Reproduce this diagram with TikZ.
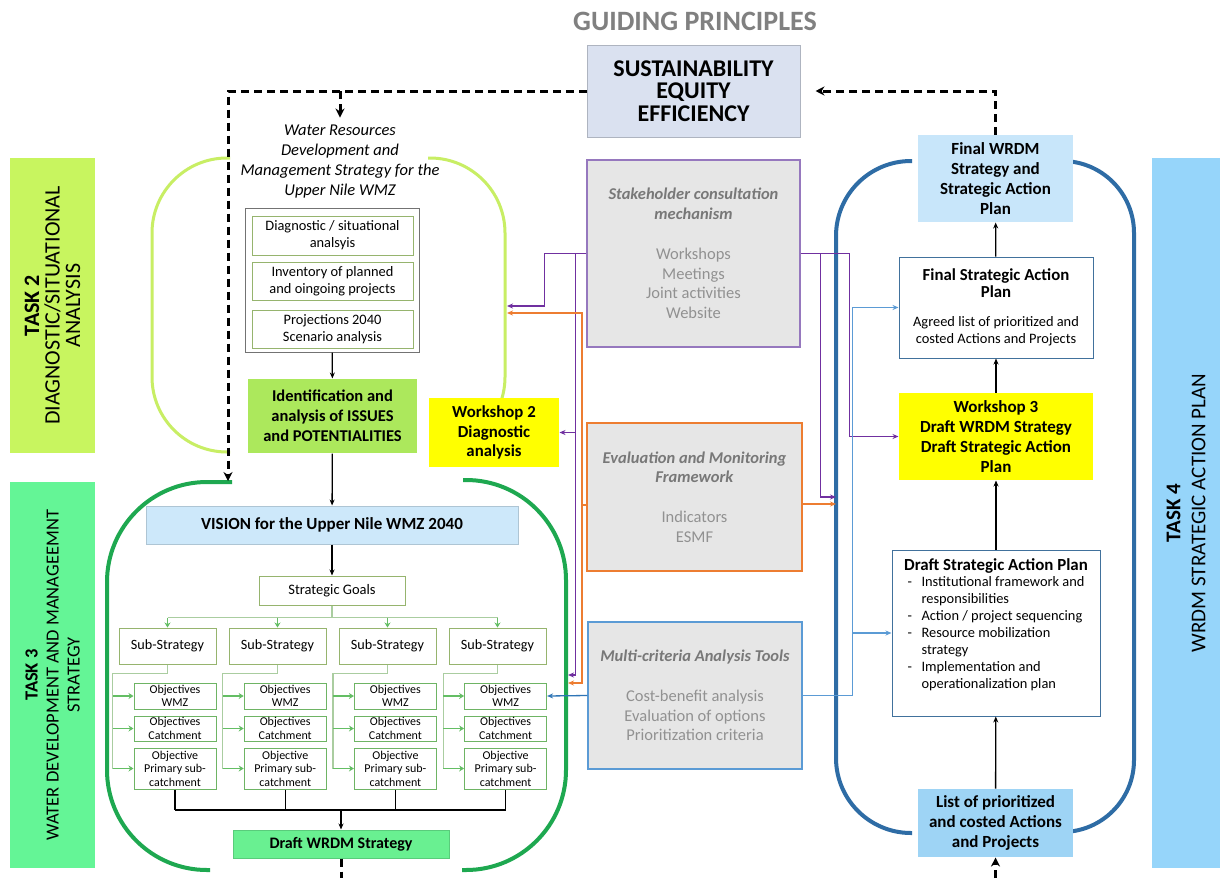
\documentclass[tikz,border=0pt]{standalone}
\usepackage{fontspec}
\setmainfont{Carlito}
\usetikzlibrary{arrows.meta}

\definecolor{tasktwo}{RGB}{200,245,95}
\definecolor{taskthree}{RGB}{100,245,150}
\definecolor{taskfour}{RGB}{150,213,250}
\definecolor{limeline}{RGB}{200,238,100}
\definecolor{greenline}{RGB}{30,168,80}
\definecolor{blueline}{RGB}{46,108,165}
\definecolor{purp}{RGB}{112,48,160}
\definecolor{stakeline}{RGB}{150,120,190}
\definecolor{orng}{RGB}{237,125,49}
\definecolor{ltblue}{RGB}{91,155,213}
\definecolor{dkblue}{RGB}{46,117,182}
\definecolor{toolfill}{RGB}{230,230,230}
\definecolor{tooltext}{RGB}{145,145,145}
\definecolor{tooltitle}{RGB}{120,120,120}
\definecolor{visionfill}{RGB}{205,232,250}
\definecolor{finalfill}{RGB}{200,230,250}
\definecolor{listfill}{RGB}{158,212,245}
\definecolor{seefill}{RGB}{218,225,240}
\definecolor{issuefill}{RGB}{172,232,92}
\definecolor{draftfill}{RGB}{105,240,145}
\definecolor{wsyellow}{RGB}{255,255,0}
\definecolor{boxgreen}{RGB}{150,180,110}
\definecolor{objgreen}{RGB}{110,180,100}
\definecolor{feedgreen}{RGB}{170,205,160}
\definecolor{arrgreen}{RGB}{100,190,100}
\definecolor{sapline}{RGB}{65,113,156}

\begin{document}
\begin{tikzpicture}[x=1pt,y=-1pt,>={Stealth[length=6pt,width=5pt]},line width=1pt,
    task/.style={rotate=90,align=center,inner sep=0pt,minimum height=85pt},
    part/.style={draw=boxgreen,minimum width=161pt,align=center,font=\fontsize{14.4}{17}\selectfont},
    tool/.style={draw,line width=1.2pt,fill=toolfill,text=tooltext,align=center,font=\fontsize{16.5}{19.8}\selectfont},
    sub/.style={draw=boxgreen,minimum width=97pt,minimum height=36pt,font=\fontsize{14.2}{16}\selectfont},
    obj/.style={draw=objgreen,minimum width=82pt,align=center,inner sep=0pt,font=\fontsize{12}{13.5}\selectfont},
    feed/.style={draw=feedgreen,line width=1.2pt},
    feedarr/.style={->,draw=arrgreen,line width=1.2pt,>={Stealth[length=5pt,width=6pt]}},
    bracket/.style={line width=4pt,rounded corners=75pt},
    link/.style={->,line width=1.3pt},
    flow/.style={->,line width=1.3pt},
    guide/.style={->,line width=3pt,dash pattern=on 8pt off 5pt,>={Stealth[length=9pt,width=9pt]}}]

\useasboundingbox (0,0) rectangle (1220,878);
\fill[white] (0,0) rectangle (1220,878);

\draw[limeline,bracket,line width=3pt] (230,158) -- (152,158) -- (152,452) -- (230,452);
\draw[limeline,bracket,line width=3pt] (428,158) -- (505,158) -- (505,452) -- (430,452);
\draw[greenline,bracket,rounded corners=100pt] (232,482) -- (107,482) -- (107,870) -- (210,870);
\draw[greenline,bracket,rounded corners=100pt] (463,480) -- (566,480) -- (566,870) -- (462,870);
\draw[blueline,bracket] (912,161) -- (836,161) -- (836,833) -- (912,833);
\draw[blueline,bracket,rounded corners=72pt] (1060,161) -- (1134,161) -- (1134,832) -- (1060,832);

\node[font=\bfseries\fontsize{28}{30}\selectfont,text=black!50] (gp) at (695,21) {GUIDING PRINCIPLES};
\node[fill=seefill,draw=seefill!80!black,minimum width=213pt,minimum height=92pt,align=center,font=\bfseries\fontsize{24}{22.5}\selectfont] (see) at (693.5,91) {SUSTAINABILITY\\EQUITY\\EFFICIENCY};

\node[task,fill=tasktwo,minimum width=295pt,font=\fontsize{22}{20.5}\selectfont] (t2) at (52.5,305.5) {\textbf{TASK 2}\\DIAGNOSTIC/SITUATIONAL\\ANALYSIS};
\node[task,fill=taskthree,minimum width=386pt,font=\fontsize{18.5}{21}\selectfont] (t3) at (52.5,675) {\textbf{TASK 3}\\WATER DEVELOPMENT AND MANAGEEMNT\\STRATEGY};
\node[task,fill=taskfour,minimum width=710pt,minimum height=68pt,font=\fontsize{21}{25}\selectfont] (t4) at (1186,513) {\textbf{TASK 4}\\WRDM STRATEGIC ACTION PLAN};

\node[align=center,font=\itshape\fontsize{16.5}{20}\selectfont] (wrdm) at (340,162) {Water Resources\\Development and\\Management Strategy for the\\Upper Nile WMZ};
\node[draw=black!55,minimum width=174pt,minimum height=144pt] (diag) at (332,280) {};
\node[part,minimum height=39pt] (d1) at (332.5,235.5) {Diagnostic / situational\\analsyis};
\node[part,minimum height=38pt] (d2) at (332.5,281) {Inventory of planned\\and oingoing projects};
\node[part,minimum height=38pt] (d3) at (332.5,329) {Projections 2040\\Scenario analysis};
\node[fill=issuefill,minimum width=169pt,minimum height=74pt,align=center,font=\bfseries\fontsize{16.5}{20}\selectfont] (issues) at (332.5,416) {Identification and\\analysis of ISSUES\\and POTENTIALITIES};
\node[fill=wsyellow,minimum width=130pt,minimum height=69pt,align=center,font=\bfseries\fontsize{16.8}{19.5}\selectfont] (ws2) at (494,432.5) {Workshop 2\\Diagnostic\\analysis};

\node[fill=visionfill,draw=visionfill!85!black,minimum width=372pt,minimum height=38pt,font=\bfseries\fontsize{17}{20}\selectfont] (vision) at (332,525) {VISION for the Upper Nile WMZ 2040};
\node[draw=boxgreen,minimum width=146pt,minimum height=29pt,font=\fontsize{14.5}{17}\selectfont] (goals) at (332,590.5) {Strategic Goals};
\foreach \i in {1,...,4}{
  \node[sub] (sub\i) at (57.5+110*\i,646) {Sub-Strategy};
  \node[obj,minimum height=26pt] (wmz\i) at (64.8+110.2*\i,696) {Objectives\\WMZ};
  \node[obj,minimum height=25pt] (catch\i) at (64.8+110.2*\i,728.5) {Objectives\\Catchment};
  \node[obj,minimum height=41pt] (prim\i) at (64.8+110.2*\i,768.5) {Objective\\Primary sub-\\catchment};
  \draw[feed] (sub\i.south) -- ++(0,9) -| ([xshift=-21pt]prim\i.west);
  \draw[feedarr] ([xshift=-21pt]wmz\i.west) -- (wmz\i.west);
  \draw[feedarr] ([xshift=-21pt]catch\i.west) -- (catch\i.west);
  \draw[feedarr] ([xshift=-21pt]prim\i.west) -- (prim\i.west);
}
\draw[feed] (goals.south) -- ++(0,12) coordinate (fan);
\draw[feed] (sub1.north |- fan) -- (sub4.north |- fan);
\foreach \i in {1,...,4} \draw[feedarr] (sub\i.north |- fan) -- (sub\i.north);
\node[fill=draftfill,draw=draftfill!85!black,minimum width=216pt,minimum height=28pt,font=\bfseries\fontsize{16}{19}\selectfont] (draft) at (341,844) {Draft WRDM Strategy};
\coordinate (join) at (341,810);
\foreach \i in {1,...,4} \draw[line width=1.3pt] (prim\i.south) -- (prim\i.south |- join);
\draw[line width=1.3pt] (prim1.south |- join) -- (prim4.south |- join);
\draw[flow] (join) -- (draft.north);

\node[tool,draw=stakeline,minimum width=213pt,minimum height=187pt] (stake) at (693.5,253.5) {\textcolor{tooltitle}{\textbf{\textit{Stakeholder consultation}}}\\\textcolor{tooltitle}{\textbf{\textit{mechanism}}}\\[19.8pt]Workshops\\Meetings\\Joint activities\\Website};
\node[tool,draw=orng,minimum width=215pt,minimum height=148pt] (eval) at (694.5,497) {\textcolor{tooltitle}{\textbf{\textit{Evaluation and Monitoring}}}\\\textcolor{tooltitle}{\textbf{\textit{Framework}}}\\[19.8pt]Indicators\\ESMF};
\node[tool,draw=ltblue,minimum width=214pt,minimum height=147pt] (mca) at (695,695.5) {\textcolor{tooltitle}{\textbf{\textit{Multi-criteria Analysis Tools}}}\\[19.8pt]Cost-benefit analysis\\Evaluation of options\\Prioritization criteria};

\node[fill=finalfill,minimum width=155pt,minimum height=87pt,align=center,font=\bfseries\fontsize{17}{20}\selectfont] (fwrdm) at (995.5,178.5) {Final WRDM\\Strategy and\\Strategic Action\\Plan};
\node[draw=sapline,fill=white,minimum width=194pt,minimum height=101pt,align=center,font=\fontsize{14.4}{17}\selectfont] (fsap) at (996,307.5) {\textbf{\fontsize{16.8}{19}\selectfont Final Strategic Action}\\\textbf{\fontsize{16.8}{19}\selectfont Plan}\\[12pt]Agreed list of prioritized and\\costed Actions and Projects};
\node[fill=wsyellow,minimum width=194pt,minimum height=87pt,align=center,font=\bfseries\fontsize{17}{20}\selectfont] (ws3) at (996,436.5) {Workshop 3\\Draft WRDM Strategy\\Draft Strategic Action\\Plan};
\node[draw=sapline,fill=white,minimum width=208pt,minimum height=166pt,align=center,font=\fontsize{14.4}{17}\selectfont] (dsap) at (996,633) {\textbf{\fontsize{16.9}{19}\selectfont Draft Strategic Action Plan}\\
  \begin{tabular}{@{}p{14pt}@{}l@{}}
  -&Institutional framework and\\&responsibilities\\-&Action / project sequencing\\-&Resource mobilization\\&strategy\\-&Implementation and\\&operationalization plan\\[14pt]
  \end{tabular}};
\node[fill=listfill,minimum width=155pt,minimum height=68pt,align=center,font=\bfseries\fontsize{17}{20}\selectfont] (list) at (995.5,823) {List of prioritized\\and costed Actions\\and Projects};

\draw[flow] (diag) -- (issues);
\draw[flow] (issues) -- (vision);
\draw[flow] (vision) -- (goals);
\draw[flow] (list) -- (dsap);
\draw[flow] (dsap) -- (ws3);
\draw[flow] (ws3) -- (fsap);
\draw[flow] (fsap) -- (fwrdm);

\coordinate (vtop) at (228,481);
\coordinate (gj) at (340,91);
\coordinate (dout) at (341,878);
\coordinate (lin) at (995.5,878);
\draw[guide] (see.west) -| (vtop);
\draw[guide] (gj) -- ([yshift=4pt]wrdm.north);
\draw[guide] (fwrdm.north) |- ([xshift=15pt]see.east);
\draw[guide,-] (draft.south) -- (dout);
\draw[guide] (lin) -- (list.south);

\coordinate (b2a) at (507,306);
\coordinate (b2b) at (507,313);
\coordinate (b3a) at (568,675);
\coordinate (b3b) at (568,683);
\coordinate (b4a) at (836,497);
\coordinate (b4b) at (836,504);
\coordinate (pv) at ([xshift=-11pt]stake.west);
\coordinate (ov) at (582,505);
\coordinate (pr) at ([xshift=49pt]stake.east);
\coordinate (bv) at ([xshift=50pt]mca.east);
\draw[link,purp] (stake.west) -- ++(-42,0) |- (b2a);
\draw[link,purp] (stake.west) -- (pv) |- (b3a);
\draw[link,purp] (pv |- ws2.east) -- (ws2.east);
\draw[link,orng] (ov -| eval.west) -- (ov) |- (b2b);
\draw[link,orng] (ov) |- (b3b);
\draw[link,dkblue] (mca.west) -- (wmz4.east);
\draw[link,purp] (stake.east) -- (pr) |- (ws3.west);
\draw[link,purp] ([xshift=20pt]stake.east) |- (b4a);
\draw[link,orng] (b4b -| eval.east) -- (b4b);
\draw[link,ltblue] (mca.east) -- (bv) |- (fsap.west);
\draw[link,ltblue] (bv |- dsap.west) -- (dsap.west);
\end{tikzpicture}
\end{document}
